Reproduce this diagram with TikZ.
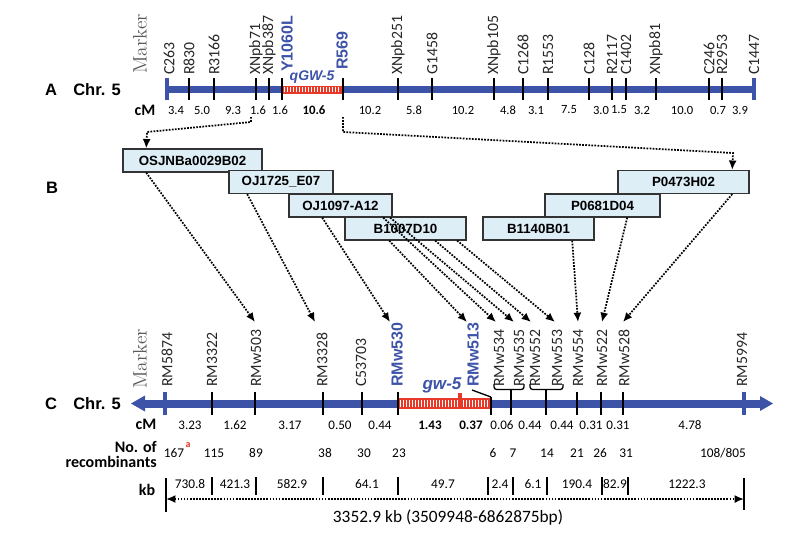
\documentclass[tikz,border=0pt]{standalone}
\usepackage{fontspec}
\newfontfamily\fcal{Carlito}
\newfontfamily\fari{Liberation Sans}
\usetikzlibrary{arrows.meta,calc}
\definecolor{chrblue}{RGB}{61,83,168}
\definecolor{hred}{RGB}{232,56,40}
\definecolor{boxfill}{RGB}{221,238,247}
\tikzset{
  mk/.style={rotate=90, anchor=west, inner sep=0pt, font=\fcal\fontsize{11.8}{12}\selectfont, text=black!85},
  mkb/.style={rotate=90, anchor=west, inner sep=0pt, font=\fari\bfseries\fontsize{12}{13}\selectfont, text=chrblue},
  tickline/.style={line width=1.5pt, black},
  endbar/.style={line width=3pt, chrblue},
  chrline/.style={line width=5.5pt, chrblue},
  numA/.style={inner sep=0pt, font=\fcal\fontsize{9.4}{10}\selectfont},
  numC/.style={inner sep=0pt, font=\fcal\fontsize{9.8}{10}\selectfont},
  numR/.style={inner sep=0pt, font=\fcal\fontsize{10}{11}\selectfont},
  rowlab/.style={inner sep=0pt, font=\fcal\bfseries\fontsize{12}{13}\selectfont},
  panel/.style={inner sep=0pt, font=\fari\bfseries\fontsize{12.4}{13}\selectfont},
  markerlab/.style={rotate=90, inner sep=0pt, font=\rmfamily\fontsize{14.6}{15}\selectfont, text=black!65},
  bac/.style={draw=black!80, line width=1.2pt, fill=boxfill, minimum height=17pt, inner sep=0pt, font=\fari\bfseries\fontsize{10}{11}\selectfont},
  dl/.style={line width=1.3pt, dash pattern=on 1.3pt off 1pt, -{Latex[length=7pt,width=6pt]}},
  sep/.style={line width=1pt, black}
}
\begin{document}
\begin{tikzpicture}[x=0.75pt,y=-0.75pt]
\useasboundingbox (0,0) rectangle (792,546);

% ---------------- Panel A ----------------
\node[panel] (pA) at (51,89.5) {A};
\node[panel] (chrA) at (97,89.5) {Chr. 5};
\node[markerlab] (markA) at (140,44) {Marker};
\node[rowlab] (cmA) at (145,110) {cM};

\draw[chrline] (167,89.5) -- (754,89.5);
\fill[hred] (282,85.5) rectangle (343,93.5);
\foreach \x in {284.5,287.5,...,341} \draw[white, line width=0.9pt] (\x,87) -- (\x,92);
\draw[endbar] (167,78) -- (167,100);
\draw[endbar] (754,78) -- (754,100);
\foreach \x in {189,214,256,269,282,343,398,432,494,523,548,589,612,626,656,709,722}
  \draw[tickline] (\x,78) -- (\x,100);

\foreach \x/\t [count=\i] in {169/C263,189/R830,214/R3166,256/XNpb71,269/XNpb387,398/XNpb251,432/G1458,494/XNpb105,523/C1268,548/R1553,589/C128,612/R2117,626/C1402,656/XNpb81,709/C246,722/R2953,754/C1447}
  \node[mk] (lA\i) at (\x,75) {\t};
\node[mkb] (lY1060L) at (287,72) {Y1060L};
\node[mkb] (lR569) at (342,70) {R569};
\node[inner sep=0pt, font=\fari\bfseries\itshape\fontsize{10.5}{11}\selectfont, text=chrblue] (qgw) at (312,77.5) {qGW-5};

\foreach \x/\t [count=\i] in {176/3.4,202/5.0,233/9.3,258/1.6,280/1.6,370/10.2,414/5.8,463/10.2,508/4.8,536/3.1,569/7.5,601/3.0,619/1.5,642/3.2,682/10.0,718/0.7,740/3.9}
  \node[numA] (nA\i) at (\x,110) {\t};
\node[numA, font=\fcal\bfseries\fontsize{9.6}{10}\selectfont] (nAb) at (314,110) {10.6};

% ---------------- Panel B ----------------
\node[panel] (pB) at (52,188) {B};
\node[bac, minimum width=104.25pt] (os) at (192.5,160.5) {OSJNBa0029B02};
\node[bac, minimum width=78pt] (oj25) at (281,182) {OJ1725\_E07};
\node[bac, minimum width=77.25pt] (oj97) at (340.5,205.5) {OJ1097-A12};
\node[bac, minimum width=90.75pt] (b10) at (405.5,228.5) {B1007D10};
\node[bac, minimum width=83.25pt] (b11) at (538.5,228.5) {B1140B01};
\node[bac, minimum width=86.25pt] (p06) at (602.5,205.5) {P0681D04};
\node[bac, minimum width=98.25pt] (p04) at (683.5,182) {P0473H02};

\coordinate (s71) at (251,117);
\coordinate (s569) at (343,117);
\draw[dl] (s71) -- (251,122) -- (147,132) -- ($(os.north west)+(24,0)$);
\draw[dl] (s569) -- (343,132) -- (733,153) -- ($(p04.north west)+(115,0)$);

% ---------------- Panel C ----------------
\node[panel] (pC) at (51,403.5) {C};
\node[panel] (chrC) at (97,403.5) {Chr. 5};
\node[markerlab] (markC) at (140,359) {Marker};
\node[rowlab] (cmC) at (146,424) {cM};

\draw[chrline, line width=6pt] (140,403.5) -- (765,403.5);
\fill[chrblue] (131,403.5) -- (145,395.5) -- (145,411.5) -- cycle;
\fill[chrblue] (773,403.5) -- (760,396) -- (760,411) -- cycle;
\fill[hred] (398,398) rectangle (491,409);
\foreach \x in {400.5,403.5,...,489} \draw[white, line width=0.9pt] (\x,400) -- (\x,407);
\fill[hred] (458,393) rectangle (462,409);
\draw[endbar] (165,392) -- (165,415);
\draw[endbar] (744,392) -- (744,415);
\foreach \x in {212,255,323,362,398,577,601,623}
  \draw[tickline] (\x,392) -- (\x,415);
\draw[tickline] (491,397) -- (491,415);
\draw[tickline] (511,389.5) -- (511,415);
\draw[tickline] (546,389.5) -- (546,415);
\draw[line width=1pt, rounded corners=2pt] (494,384) |- (511,389.5) -| (524,384);
\draw[line width=1pt, rounded corners=2pt] (530,384) |- (546,389.5) -| (563,384);
\draw[line width=1pt] (472,390) -- (491,397);

\foreach \x/\t [count=\i] in {167/RM5874,212/RM3322,256/RMw503,322/RM3328,361/C53703,499/RMw534,519/RMw535,535/RMw552,557/RMw553,578/RMw554,602/RMw522,624/RMw528,742/RM5994}
  \node[mk] (lC\i) at (\x,387) {\t};
\node[mkb] (lRMw530) at (397,387) {RMw530};
\node[mkb] (lRMw513) at (473,387) {RMw513};
\node[inner sep=0pt, font=\fari\bfseries\itshape\fontsize{12.8}{13}\selectfont, text=chrblue] (gw) at (442,385) {gw-5};

% arrow targets
\coordinate (t503) at (255,322);
\coordinate (t3328) at (315,322);
\coordinate (t530) at (390,322);
\coordinate (t513) at (467,322);
\coordinate (t534) at (496,322);
\coordinate (t535) at (514,322);
\coordinate (t552) at (531,322);
\coordinate (t553) at (555,322);
\coordinate (t554) at (578,322);
\coordinate (t522) at (602,322);
\coordinate (t528) at (623,322);

\draw[dl] ($(os.south west)+(24,0)$) -- (t503);
\draw[dl] ($(oj25.south west)+(19,0)$) -- (t3328);
\draw[dl] ($(oj97.south west)+(34,0)$) -- (t530);
\draw[dl] ($(oj97.south west)+(95,0)$) -- (t534);
\draw[dl] ($(oj97.south west)+(102,0)$) -- (t535);
\draw[dl] ($(b10.south west)+(45,0)$) -- (t513);
\draw[dl] ($(b10.south west)+(91,0)$) -- (t552);
\draw[dl] ($(b10.south west)+(113,0)$) -- (t553);
\draw[dl] ($(b11.south west)+(90,0)$) -- (t554);
\draw[dl] ($(p06.south west)+(83,0)$) -- (t522);
\draw[dl] ($(p04.south west)+(115,0)$) -- (t528);

% cM row
\foreach \x/\t [count=\i] in {190/3.23,235/1.62,290/3.17,340/0.50,380/0.44,502/0.06,530/0.44,562/0.44,591/0.31,618/0.31,690/4.78}
  \node[numC] (nC\i) at (\x,425) {\t};
\node[numC, font=\fcal\bfseries\fontsize{9.8}{10}\selectfont] (nCb1) at (430,425) {1.43};
\node[numC, font=\fcal\bfseries\fontsize{9.8}{10}\selectfont] (nCb2) at (471,425) {0.37};

% recombinants
\node[rowlab, anchor=east] (no) at (157,447) {No. of};
\node[rowlab, anchor=east] (rec) at (157,462) {recombinants};
\foreach \x/\t [count=\i] in {174/167,214/115,256/89,325/38,364/30,399/23,493/6,513/7,547/14,577/21,600/26,626/31,723/108\slash 805}
  \node[numR] (r\i) at (\x,453) {\t};
\node[inner sep=0pt, font=\fcal\bfseries\fontsize{7.5}{8}\selectfont, text=hred] (sa) at (188,445) {a};

% kb row
\node[rowlab] (kb) at (147,490) {kb};
\foreach \x in {212,256,323,398,488,513,547,602,628}
  \draw[sep] (\x,477) -- (\x,495);
\draw[sep, line width=1.3pt] (166,478) -- (166,512);
\draw[sep, line width=1.3pt] (744,478) -- (744,510);
\foreach \x/\t [count=\i] in {190/730.8,235/421.3,292/582.9,367/64.1,443/49.7,500/2.4,533/6.1,577/190.4,615/82.9,687/1222.3}
  \node[numR] (k\i) at (\x,484) {\t};
\coordinate (kL) at (166,499);
\coordinate (kR) at (744,499);
\draw[line width=1.3pt, dash pattern=on 1.3pt off 1pt, {Latex[length=7pt,width=6pt]}-{Latex[length=7pt,width=6pt]}] (kL) -- (kR);
\node[inner sep=0pt, font=\fcal\fontsize{13}{14}\selectfont] (tot) at (448,518) {3352.9 kb (3509948-6862875bp)};
\end{tikzpicture}
\end{document}
